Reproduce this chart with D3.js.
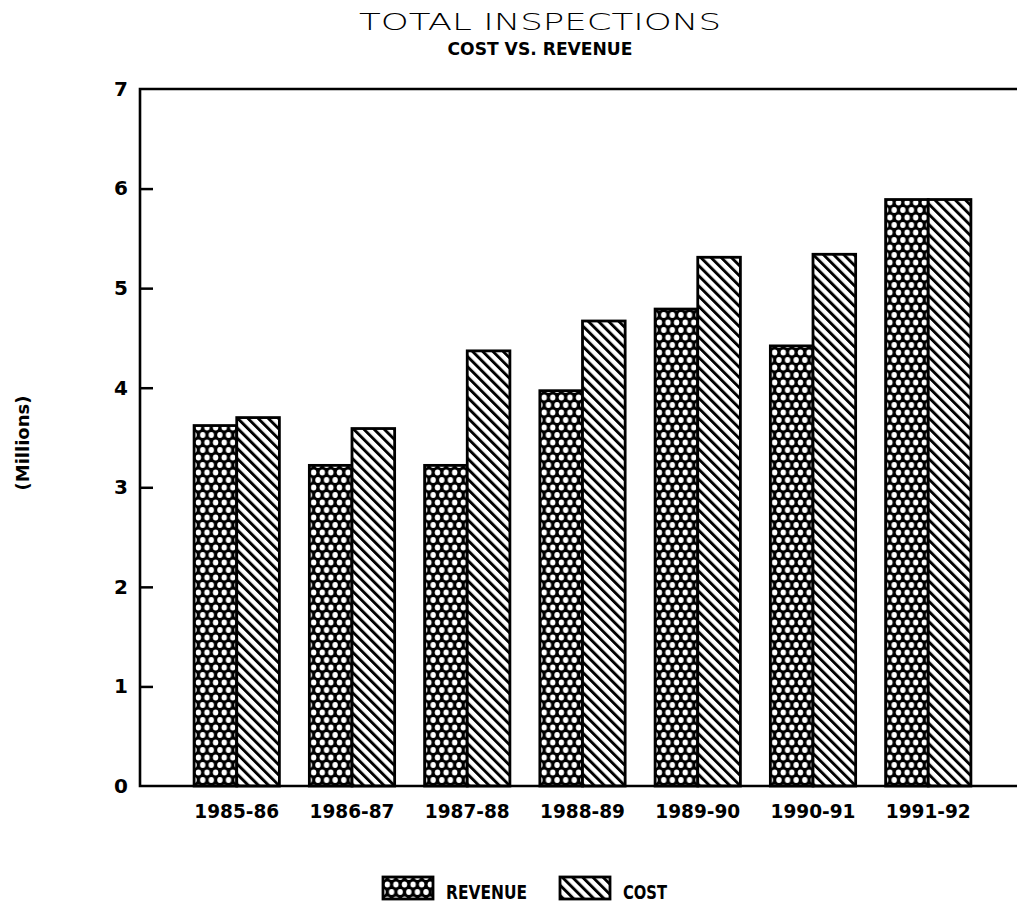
<!DOCTYPE html>
<html>
<head>
<meta charset="utf-8">
<script src="https://cdn.jsdelivr.net/npm/d3@7"></script>
<style>
  body { margin: 0; background: #fff; }
  text { font-family: "DejaVu Sans", sans-serif; fill: #000; }
</style>
</head>
<body>
<div id="chart-container"></div>
<script>
// data (millions)
const years = ["1985-86", "1986-87", "1987-88", "1988-89", "1989-90", "1990-91", "1991-92"];
const revenue = [3.62, 3.22, 3.22, 3.97, 4.79, 4.42, 5.89];
const cost = [3.70, 3.59, 4.37, 4.67, 5.31, 5.34, 5.89];
const yTicks = [0, 1, 2, 3, 4, 5, 6, 7];
const seriesNames = ["REVENUE", "COST"];

const width = 1017;
const height = 902;
const plot = { left: 140, right: 1017, top: 89, bottom: 786 };

const svg = d3
  .select("#chart-container")
  .append("svg")
  .attr("width", width)
  .attr("height", height);

// patterns: black with white dots for revenue, diagonal lines for cost
const defs = svg.append("defs");
const pw = 8.6, ph = 15;
const dots = defs
  .append("pattern")
  .attr("id", "pat-revenue")
  .attr("patternUnits", "userSpaceOnUse")
  .attr("width", pw)
  .attr("height", ph);
dots.append("rect").attr("width", pw).attr("height", ph).attr("fill", "#000");
[[0, 0], [pw, 0], [0, ph], [pw, ph], [pw / 2, ph / 2]].forEach(([cx, cy]) => {
  dots.append("ellipse").attr("cx", cx).attr("cy", cy).attr("rx", 2.7).attr("ry", 2.9).attr("fill", "#fff");
});

const lines = defs
  .append("pattern")
  .attr("id", "pat-cost")
  .attr("patternUnits", "userSpaceOnUse")
  .attr("width", 7.2)
  .attr("height", 10)
  .attr("patternTransform", "rotate(-45)");
lines.append("rect").attr("width", 7.2).attr("height", 10).attr("fill", "#fff");
lines.append("rect").attr("x", 0).attr("width", 2.9).attr("height", 10).attr("fill", "#000");

const fills = ["url(#pat-revenue)", "url(#pat-cost)"];

// scales
const xScale = d3
  .scaleBand()
  .domain(years)
  .range([148, 1017])
  .paddingInner(0.26)
  .paddingOuter(0.4);

const xSub = d3
  .scaleBand()
  .domain(seriesNames)
  .range([0, xScale.bandwidth()]);

const yScale = d3.scaleLinear().domain([0, 7]).range([plot.bottom, plot.top]);

// bars
const groups = svg
  .selectAll(".group")
  .data(years.map((y, i) => ({ year: y, values: [revenue[i], cost[i]] })))
  .join("g")
  .attr("class", "group")
  .attr("transform", (d) => `translate(${xScale(d.year)},0)`);

groups
  .selectAll("rect")
  .data((d) => d.values.map((v, i) => ({ name: seriesNames[i], value: v, i: i })))
  .join("rect")
  .attr("x", (d) => xSub(d.name))
  .attr("y", (d) => yScale(d.value))
  .attr("width", xSub.bandwidth())
  .attr("height", (d) => yScale(0) - yScale(d.value))
  .attr("fill", (d) => fills[d.i])
  .attr("stroke", "#000")
  .attr("stroke-width", 2.8);

// y-axis (ticks pointing inward)
const yAxis = d3
  .axisLeft(yScale)
  .tickValues(yTicks)
  .tickFormat(d3.format("d"))
  .tickSize(-13)
  .tickPadding(12);
svg
  .append("g")
  .attr("transform", `translate(${plot.left},0)`)
  .call(yAxis)
  .call((g) => g.select(".domain").remove())
  .call((g) => g.selectAll(".tick line").attr("stroke", "#000").attr("stroke-width", 2.5)
    .style("visibility", (d) => (d === 0 || d === 7 ? "hidden" : "visible")))
  .selectAll(".tick text")
  .style("font-size", "20px")
  .style("font-weight", "bold");

// x-axis labels
const xAxis = d3.axisBottom(xScale).tickSize(0).tickPadding(19);
svg
  .append("g")
  .attr("transform", `translate(0,${plot.bottom})`)
  .call(xAxis)
  .call((g) => g.select(".domain").remove())
  .selectAll(".tick text")
  .attr("textLength", 85)
  .attr("lengthAdjust", "spacingAndGlyphs")
  .style("font-size", "19px")
  .style("font-weight", "bold");

// frame: left, top and bottom lines
svg
  .append("path")
  .attr("d", `M${plot.right},${plot.top}H${plot.left}V${plot.bottom}H${plot.right}`)
  .attr("fill", "none")
  .attr("stroke", "#000")
  .attr("stroke-width", 2.6);

// title and subtitle
svg
  .append("text")
  .attr("x", 540)
  .attr("y", 30)
  .attr("text-anchor", "middle")
  .attr("textLength", 362)
  .attr("lengthAdjust", "spacingAndGlyphs")
  .style("font-weight", "300")
  .style("font-size", "23px")
  .text("TOTAL INSPECTIONS");

svg
  .append("text")
  .attr("x", 540)
  .attr("y", 55)
  .attr("text-anchor", "middle")
  .attr("textLength", 185)
  .attr("lengthAdjust", "spacingAndGlyphs")
  .style("font-weight", "bold")
  .style("font-size", "17px")
  .text("COST VS. REVENUE");

// y label
svg
  .append("text")
  .attr("transform", "translate(29,443) rotate(-90)")
  .attr("text-anchor", "middle")
  .style("font-weight", "bold")
  .style("font-size", "18px")
  .text("(Millions)");

// legend
const legendX = [383, 560];
const legendTextLen = [81, 44];
const legend = svg
  .selectAll(".legend")
  .data(seriesNames)
  .join("g")
  .attr("class", "legend")
  .attr("transform", (d, i) => `translate(${legendX[i]},877)`);
legend
  .append("rect")
  .attr("width", 50)
  .attr("height", 22)
  .attr("fill", (d, i) => fills[i])
  .attr("stroke", "#000")
  .attr("stroke-width", 2.8);
legend
  .append("text")
  .attr("x", 63)
  .attr("y", 22)
  .attr("textLength", (d, i) => legendTextLen[i])
  .attr("lengthAdjust", "spacingAndGlyphs")
  .style("font-weight", "bold")
  .style("font-size", "19px")
  .text((d) => d);
</script>
</body>
</html>
